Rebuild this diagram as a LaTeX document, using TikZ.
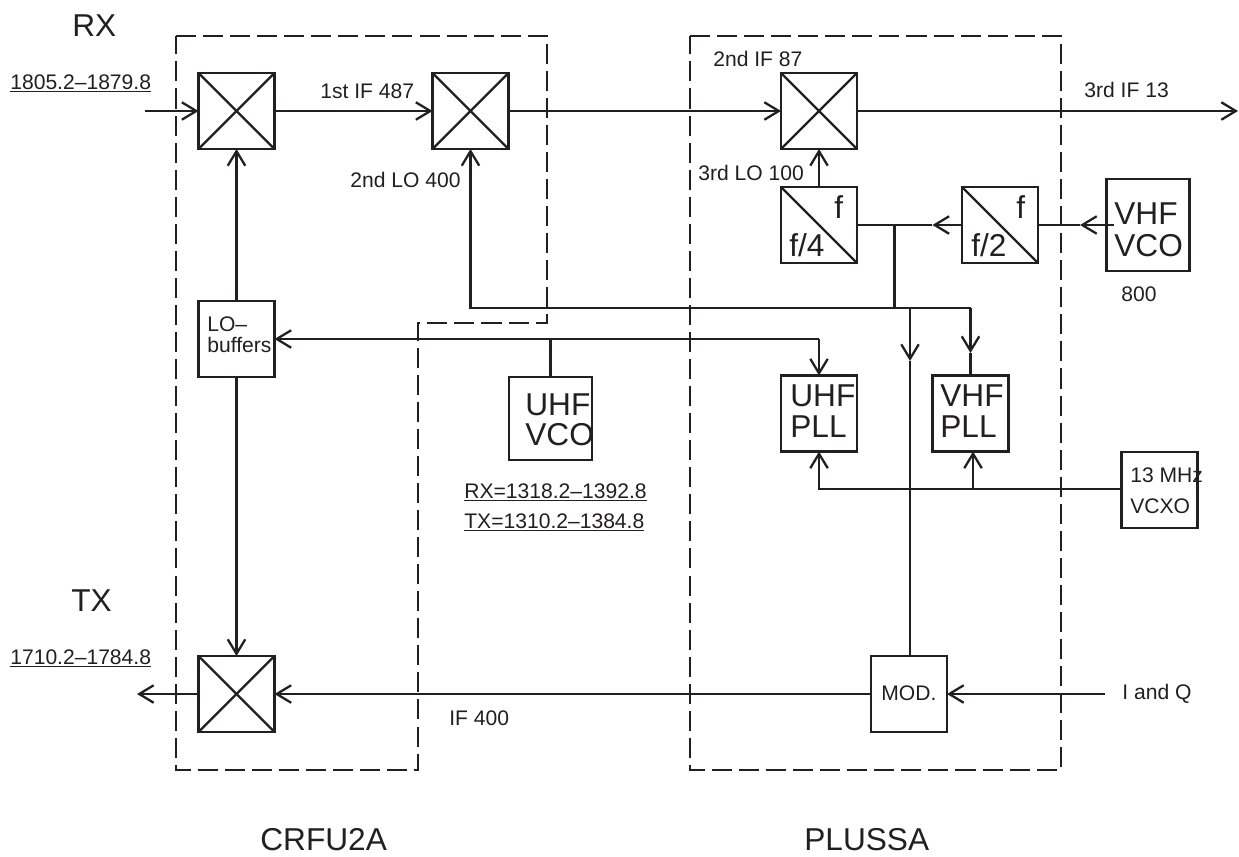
\documentclass[tikz,border=0pt]{standalone}
\usepackage{fontspec}
\setmainfont{Liberation Sans}
\usetikzlibrary{arrows.meta}
\definecolor{ink}{HTML}{231F20}

\begin{document}
\begin{tikzpicture}[
  x=.02cm,y=-.02cm,
  color=ink,text=ink,
  wire/.style={draw=ink,line width=1.3pt},
  arrow/.style={wire,-{Straight Barb[length=2.9mm,width=3.5mm,line width=1.3pt]}},
  border/.style={draw=ink,line width=1.3pt,dash pattern=on 11.4pt off 4pt},
  block/.style={draw=ink,line width=1.3pt,inner sep=0pt,outer sep=0pt,minimum width=1.52cm,minimum height=1.52cm},
  mixer/.style={block,path picture={
    \draw[wire] (path picture bounding box.north west) -- (path picture bounding box.south east);
    \draw[wire] (path picture bounding box.south west) -- (path picture bounding box.north east);}},
  divider/.style={block,path picture={
    \draw[wire] (path picture bounding box.north west) -- (path picture bounding box.south east);}},
  small/.style={anchor=base west,inner sep=0pt,font=\fontsize{12}{14}\selectfont},
  large/.style={anchor=base west,inner sep=0pt,font=\fontsize{18}{20}\selectfont}
]
  \useasboundingbox (0,0) rectangle (1239,856);

  % unit borders
  \draw[border] (176,36) -- (547,36) -- (547,323) -- (418,323) -- (418,770) -- (176,770) -- cycle;
  \draw[border] (690,36) -- (1061,36) -- (1061,770) -- (690,770) -- cycle;

  % blocks
  \foreach \name/\x/\y in {mixrx/236.5/111,mixif/470.5/111,mixlo/819/111,mixtx/236.5/694}
    \node[mixer] (\name) at (\x,\y) {};
  \foreach \name/\x in {divfour/819,divtwo/1000}
    \node[divider] (\name) at (\x,225) {};
  \node[block] (lobuf) at (236.5,339) {};
  \node[block,minimum width=1.66cm,minimum height=1.66cm] (uhfvco) at (550.5,418.5) {};
  \node[block,minimum width=1.66cm,minimum height=1.84cm] (vhfvco) at (1148,225) {};
  \node[block] (uhfpll) at (819,413.5) {};
  \node[block] (vhfpll) at (970.5,413.5) {};
  \node[block] (vcxo) at (1159.5,490) {};
  \node[block] (modul) at (909,694) {};

  % free ends and branch points
  \coordinate (rxin) at (145,111);
  \coordinate (ifout) at (1238,111);
  \coordinate (txout) at (137,694);
  \coordinate (iqin) at (1105,694);
  \coordinate (halftip) at (932.4,225);
  \coordinate (vcostart) at (1114,225);
  \coordinate (vcotip) at (1080,225);
  \coordinate (lotap) at (894.5,225);
  \coordinate (busmid) at (894.5,308);
  \coordinate (busleft) at (470.5,308);
  \coordinate (busmod) at (910,308);
  \coordinate (modtip) at (910,361);
  \coordinate (busright) at (970.5,308);
  \coordinate (righttip) at (970.5,353);
  \coordinate (vcotap) at (550.5,339);
  \coordinate (pllcorner) at (819,339);
  \coordinate (refleft) at (819,489);
  \coordinate (refmid) at (973,489);

  % signal path
  \draw[arrow] (rxin) -- (mixrx);
  \draw[arrow] (mixrx) -- (mixif);
  \draw[arrow] (mixif) -- (mixlo);
  \draw[arrow] (mixlo) -- (ifout);
  \draw[arrow] (divfour) -- (mixlo);
  \draw[arrow] (divtwo) -- (halftip);
  \draw[wire] (halftip) -- (divfour);
  \draw[arrow] (vcostart) -- (vcotip);
  \draw[wire] (vcotip) -- (divtwo);
  \draw[wire] (lotap) -- (busmid);
  \draw[arrow] (busmid) -- (busleft) -- (mixif);
  \draw[wire] (busmid) -- (busright);
  \draw[arrow] (busright) -- (righttip);
  \draw[wire] (righttip) -- (vhfpll);
  \draw[arrow] (busmod) -- (modtip);
  \draw[wire] (modtip) -- (modul.north -| modtip);
  \draw[arrow] (lobuf) -- (mixrx);
  \draw[arrow] (lobuf) -- (mixtx);
  \draw[arrow] (pllcorner) -- (lobuf);
  \draw[arrow] (pllcorner) -- (uhfpll);
  \draw[wire] (uhfvco) -- (vcotap);
  \draw[arrow] (vcxo.west |- refleft) -- (refleft) -- (uhfpll);
  \draw[arrow] (refmid) -- (vhfpll.south -| refmid);
  \draw[arrow] (modul) -- (mixtx);
  \draw[arrow] (mixtx) -- (txout);
  \draw[arrow] (iqin) -- (modul);

  % labels
  \node[large] (rxlabel) at (72,36) {RX};
  \node[large] (txlabel) at (71,611) {TX};
  \node[large] (crfu) at (260,850) {CRFU2A};
  \node[large] (plussa) at (804,850) {PLUSSA};
  \node[small] (rxband) at (10,89) {\underline{1805.2–1879.8}};
  \node[small] (txband) at (10,664) {\underline{1710.2–1784.8}};
  \node[small] (firstif) at (320,98) {1st IF 487};
  \node[small] (secondlo) at (350,187) {2nd LO 400};
  \node[small] (secondif) at (713,66) {2nd IF 87};
  \node[small] (thirdif) at (1084,97) {3rd IF 13};
  \node[small] (thirdlo) at (698,180) {3rd LO 100};
  \node[small] (vcofreq) at (1121,301) {800};
  \node[small] (ifmod) at (449,725) {IF 400};
  \node[small] (iqlabel) at (1122,699) {I and Q};
  \node[small] (modtext) at (881,700) {MOD.};
  \node[small] (lotext) at (207,331) {LO–};
  \node[small] (buftext) at (207,352) {buffers};
  \node[small] (rxrange) at (464,498) {\underline{RX=1318.2–1392.8}};
  \node[small] (txrange) at (464,528) {\underline{TX=1310.2–1384.8}};
  \node[small] (vcxofreq) at (1130,482) {13 MHz};
  \node[small] (vcxotext) at (1130,513) {VCXO};
  \foreach \name/\x/\y/\txt in {
      ftop/834/218/f,ffour/789/256/f\slash 4,fmid/1016/218/f,ftwo/971/256/f\slash 2,
      uhfa/525/415/UHF,vcoa/525/445/VCO,vhfa/1114/224/VHF,vcob/1114/256/VCO,
      uhfb/790/406/UHF,plla/790/437/PLL,vhfb/940/406/VHF,pllb/940/437/PLL}
    \node[large] (\name) at (\x,\y) {\txt};
\end{tikzpicture}
\end{document}
